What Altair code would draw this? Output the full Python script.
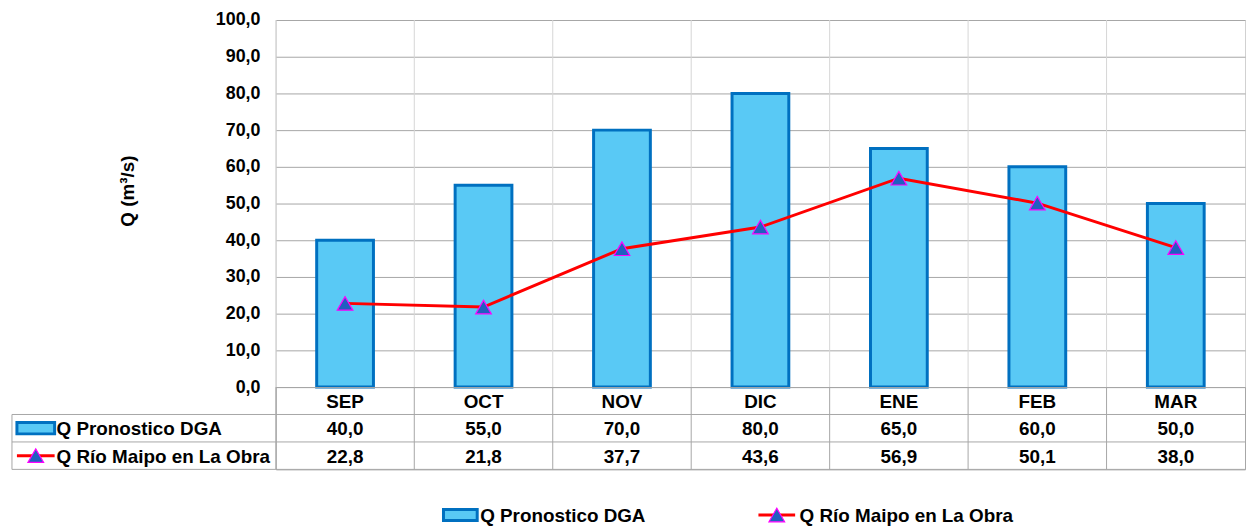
import altair as alt
import pandas as pd

months = ["SEP", "OCT", "NOV", "DIC", "ENE", "FEB", "MAR"]
dga = [40.0, 55.0, 70.0, 80.0, 65.0, 60.0, 50.0]
maipo = [22.8, 21.8, 37.7, 43.6, 56.9, 50.1, 38.0]
series_names = ["Q Pronostico DGA", "Q Río Maipo en La Obra"]
y_ticks = [0, 10, 20, 30, 40, 50, 60, 70, 80, 90, 100]

W = 977
H = 370
TH = 83
FONT = "Liberation Sans"
BAR_FILL = "#59C9F5"
BAR_STROKE = "#0070C0"
RED = "#FF0000"
TRI_FILL = "#1F5FC0"
TRI_STROKE = "#FF00FF"
GRID = "#A6A6A6"
VGRID = "#D6D6D6"
TRI_SIZE = 250
TRI_SW = 1.2

df = pd.DataFrame({"cat": months, "dga": dga, "maipo": maipo})
xenc = alt.X("cat:N", sort=months, axis=None,
             scale=alt.Scale(paddingInner=0, paddingOuter=0))

vgrid = alt.Chart(df).mark_rule(color=VGRID, strokeWidth=1).encode(
    x=alt.X("cat:N", sort=months, axis=None, bandPosition=0,
            scale=alt.Scale(paddingInner=0, paddingOuter=0)))

yscale = alt.Scale(domain=[0, 100], nice=False)
yaxis = alt.Axis(values=y_ticks, tickCount=11, grid=True, gridColor=GRID,
                 domain=False, ticks=False, labelOverlap=False,
                 labelExpr="replace(format(datum.value, '.1f'), '.', ',')",
                 labelFont=FONT, labelFontSize=18, labelFontWeight="bold",
                 labelColor="#000000", labelPadding=16,
                 title="Q (m³/s)", titleFont=FONT, titleFontSize=19,
                 titleFontWeight="bold", titleColor="#000000",
                 titleX=-149, titleY=172, titleAngle=-90,
                 titleAlign="center", titleBaseline="middle")

bars = alt.Chart(df).mark_bar(width={"band": 0.41}, fill=BAR_FILL, stroke=BAR_STROKE,
                              strokeWidth=3).encode(
    x=xenc, y=alt.Y("dga:Q", scale=yscale, axis=yaxis, title="Q (m³/s)"))
line = alt.Chart(df).mark_line(color=RED, strokeWidth=3).encode(
    x=xenc, y=alt.Y("maipo:Q", scale=yscale, axis=yaxis, title="Q (m³/s)"))
pts = alt.Chart(df).mark_point(shape="triangle-up", filled=True, fill=TRI_FILL,
                               stroke=TRI_STROKE, strokeWidth=TRI_SW, size=TRI_SIZE,
                               opacity=1).encode(
    x=xenc, y=alt.Y("maipo:Q", scale=yscale, axis=yaxis, title="Q (m³/s)"))

top = alt.layer(vgrid, bars, line, pts).properties(
    width=W, height=H, view=alt.ViewBackground(stroke="#D0D0D0"))

# ---- data table ----
rows_long = []
for i, m in enumerate(months):
    rows_long.append({"cat": m, "r": 0.5, "v": m})
    rows_long.append({"cat": m, "r": 1.5, "v": f"{dga[i]:.1f}".replace(".", ",")})
    rows_long.append({"cat": m, "r": 2.5, "v": f"{maipo[i]:.1f}".replace(".", ",")})
tdf = pd.DataFrame(rows_long)

tys = alt.Scale(domain=[0, 3], reverse=True, nice=False)
txenc = alt.X("cat:N", sort=months, axis=None,
              scale=alt.Scale(paddingInner=0, paddingOuter=0))

tcells = alt.Chart(tdf).mark_text(font=FONT, fontSize=19, fontWeight="bold",
                                  color="#000000", baseline="middle", dy=1).encode(
    x=txenc, y=alt.Y("r:Q", scale=tys, axis=None), text="v:N")

tv = alt.Chart(df).mark_rule(color=GRID, strokeWidth=1).encode(
    x=alt.X("cat:N", sort=months, axis=None, bandPosition=0,
            scale=alt.Scale(paddingInner=0, paddingOuter=0)))

hl = pd.DataFrame({"yl": [1, 2, 3]})
th = alt.Chart(hl).mark_rule(color=GRID, strokeWidth=1).encode(
    y=alt.Y("yl:Q", scale=tys, axis=None))
th_left = alt.Chart(hl).mark_rule(color=GRID, strokeWidth=1).encode(
    y=alt.Y("yl:Q", scale=tys, axis=None), x=alt.value(-266), x2=alt.value(0))
vl_left = alt.Chart(pd.DataFrame({"a": [1], "b": [3]})).mark_rule(
    color=GRID, strokeWidth=1).encode(
    x=alt.value(-266), y=alt.Y("a:Q", scale=tys, axis=None), y2="b:Q")

ldf = pd.DataFrame({"name": series_names, "r": [1.5, 2.5], "k": ["bar", "line"]})
rlabels = alt.Chart(ldf).mark_text(font=FONT, fontSize=19, fontWeight="bold",
                                   color="#000000", align="left",
                                   baseline="middle", dy=1).encode(
    x=alt.value(-221), y=alt.Y("r:Q", scale=tys, axis=None), text="name:N")

BAR_SHAPE = "M-1,-0.3L1,-0.3L1,0.3L-1,0.3Z"
LINE_SHAPE = "M-1,0L1,0"
sym_bar = alt.Chart(ldf[ldf.k == "bar"]).mark_point(
    shape=BAR_SHAPE, size=1444, filled=True, fill=BAR_FILL, stroke=BAR_STROKE,
    strokeWidth=3, opacity=1).encode(
    x=alt.value(-242), y=alt.Y("r:Q", scale=tys, axis=None))
sym_line = alt.Chart(ldf[ldf.k == "line"]).mark_point(
    shape=LINE_SHAPE, size=1444, filled=False, stroke=RED, strokeWidth=3,
    opacity=1).encode(
    x=alt.value(-242), y=alt.Y("r:Q", scale=tys, axis=None))
sym_tri = alt.Chart(ldf[ldf.k == "line"]).mark_point(
    shape="triangle-up", size=TRI_SIZE, filled=True, fill=TRI_FILL, stroke=TRI_STROKE,
    strokeWidth=TRI_SW, opacity=1).encode(
    x=alt.value(-242), y=alt.Y("r:Q", scale=tys, axis=None))

# bottom legend
LY = 129
leg_bar = alt.Chart(ldf[ldf.k == "bar"]).mark_point(
    shape="M-1,-0.33L1,-0.33L1,0.33L-1,0.33Z", size=1156, filled=True, fill=BAR_FILL,
    stroke=BAR_STROKE, strokeWidth=3, opacity=1).encode(
    x=alt.value(186), y=alt.value(LY))
leg_line = alt.Chart(ldf[ldf.k == "line"]).mark_point(
    shape=LINE_SHAPE, size=1369, filled=False, stroke=RED, strokeWidth=3,
    opacity=1).encode(x=alt.value(505), y=alt.value(LY))
leg_tri = alt.Chart(ldf[ldf.k == "line"]).mark_point(
    shape="triangle-up", size=TRI_SIZE, filled=True, fill=TRI_FILL, stroke=TRI_STROKE,
    strokeWidth=TRI_SW, opacity=1).encode(x=alt.value(505), y=alt.value(LY))
leg_t1 = alt.Chart(ldf[ldf.k == "bar"]).mark_text(
    font=FONT, fontSize=19, fontWeight="bold", color="#000000", align="left",
    baseline="middle", dy=1).encode(x=alt.value(206), y=alt.value(LY), text="name:N")
leg_t2 = alt.Chart(ldf[ldf.k == "line"]).mark_text(
    font=FONT, fontSize=19, fontWeight="bold", color="#000000", align="left",
    baseline="middle", dy=1).encode(x=alt.value(528), y=alt.value(LY), text="name:N")

table = alt.layer(tv, th, th_left, vl_left, tcells, rlabels, sym_bar, sym_line, sym_tri,
                  leg_bar, leg_line, leg_tri, leg_t1, leg_t2).properties(
    width=W, height=TH, view=alt.ViewBackground(stroke=GRID))

chart = alt.vconcat(top, table, spacing=0, bounds="flush").properties(
    padding={"left": 2, "top": 0, "right": 0, "bottom": 2}
).resolve_scale(x="independent", y="independent").configure(
    background="#FFFFFF")

chart.save("out.html", embed_options={"renderer": "svg", "actions": False})
